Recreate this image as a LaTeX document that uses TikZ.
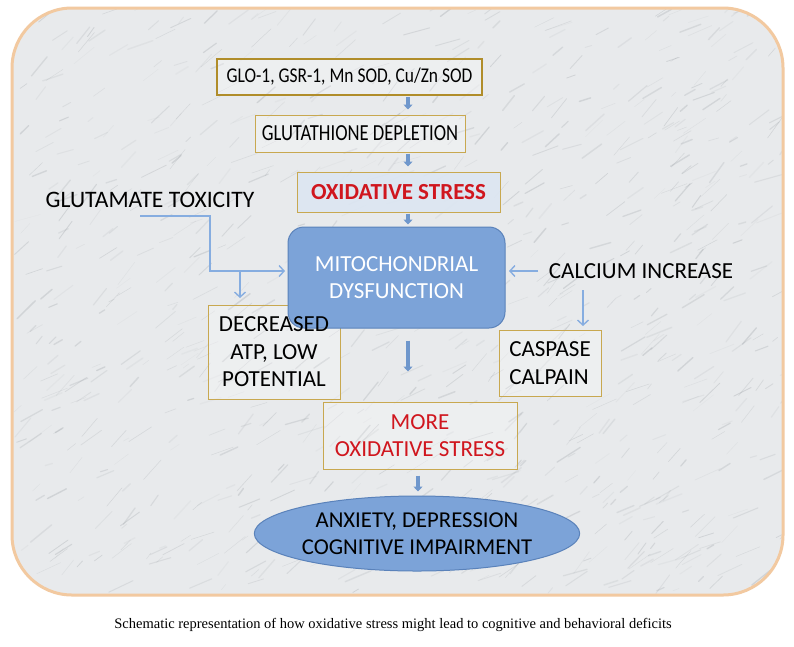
\documentclass[tikz,border=0pt]{standalone}
\usepackage{fontspec}
\setmainfont{Carlito}
\newfontfamily\capfont{Liberation Serif}
\usetikzlibrary{shapes.geometric,arrows.meta}
\definecolor{peach}{HTML}{F2C9A0}
\definecolor{marble}{HTML}{E8EAEC}
\definecolor{vein}{HTML}{8A9096}
\definecolor{gold}{HTML}{C8A850}
\definecolor{darkgold}{HTML}{B08D2A}
\definecolor{lblue}{HTML}{DCE6F2}
\definecolor{mblue}{HTML}{7CA3D8}
\definecolor{bblue}{HTML}{5A82BA}
\definecolor{arr}{HTML}{6F97CC}
\definecolor{tarrc}{HTML}{86ADE0}
\definecolor{redtxt}{HTML}{D0161E}
\newcommand{\fs}[1]{\fontsize{#1}{27.5}\selectfont}
\tikzset{
  x=1pt, y=-1pt,
  txt/.style={font=\fs{23}, align=center, inner sep=0pt},
  goldbox/.style={draw=gold, line width=1pt, fill=white, fill opacity=0.25, text opacity=1, inner sep=0pt, minimum width=#1},
  varr/.style={draw=arr, line width=3.5pt, -{Triangle[length=5pt,width=9pt]}},
  tarr/.style={draw=tarrc, line width=1.4pt, -{Straight Barb[length=5pt,width=11pt]}},
  tline/.style={draw=tarrc, line width=1.4pt}
}
\begin{document}
\begin{tikzpicture}
\useasboundingbox (0,0) rectangle (794,646);
\fill[white] (0,0) rectangle (794,646);
% frame with marble texture
\fill[marble, rounded corners=60pt] (12,8) rectangle (783,595);
\begin{scope}
\clip[rounded corners=60pt] (12,8) rectangle (783,595);
\pgfmathsetseed{12}
\foreach \i in {1,...,900}{
  \pgfmathsetmacro{\xa}{12+771*rnd}
  \pgfmathsetmacro{\ya}{8+587*rnd}
  \pgfmathsetmacro{\ang}{-15-40*rnd}
  \pgfmathsetmacro{\len}{6+22*rnd}
  \pgfmathsetmacro{\op}{0.06+0.2*rnd}
  \pgfmathsetmacro{\lw}{0.3+1.2*rnd}
  \draw[vein, opacity=\op, line width=\lw pt, line cap=round] (\xa,\ya) -- ++(\ang:\len);
}
\end{scope}
\draw[peach, line width=3pt, rounded corners=60pt] (12,8) rectangle (783,595);
% boxes
\node[draw=darkgold, line width=2.5pt, fill=white, fill opacity=0.25, text opacity=1, inner sep=0pt, minimum width=265pt, minimum height=36pt] (b1) at (349.5,77) {\fs{21}\scalebox{0.83}[1]{GLO-1, GSR-1, Mn SOD, Cu/Zn SOD}};
\node[goldbox=210pt, minimum height=37pt] (b2) at (360,133.5) {\fs{23}\scalebox{0.81}[1]{GLUTATHIONE DEPLETION}};
\node[draw=gold, line width=1pt, fill=lblue, fill opacity=0.9, text opacity=1, txt, text=redtxt, font=\fs{23}\bfseries, minimum width=203pt, minimum height=40pt] (b3) at (398.5,192) {OXIDATIVE STRESS};
\node[goldbox=132pt, minimum height=94pt] (dec) at (274,352) {};
\node[draw=bblue, line width=1pt, fill=mblue, rounded corners=16pt, txt, text=white, minimum width=217pt, minimum height=101pt] (mito) at (396.5,277.5) {MITOCHONDRIAL\\DYSFUNCTION};
\node[txt] (dect) at (dec.center) {DECREASED\\ATP, LOW\\POTENTIAL};
\node[goldbox=102pt, minimum height=66pt, font=\fs{23}, align=left] (casp) at (550,363) {CASPASE\\CALPAIN};
\node[goldbox=194pt, minimum height=67pt, font=\fs{23}, align=center, text=redtxt] (more) at (420,435.5) {MORE\\OXIDATIVE STRESS};
\node[draw=bblue, line width=1pt, fill=mblue, ellipse, txt, font=\fs{22.7}, minimum width=234pt, minimum height=75pt, inner sep=0pt] (anx) at (417,533.5) {ANXIETY, DEPRESSION\\COGNITIVE IMPAIRMENT};
\node[txt, font=\fs{23.6}] (glu) at (150,200) {GLUTAMATE TOXICITY};
\node[txt] (cal) at (641,271) {CALCIUM INCREASE};
\node[font=\capfont\fontsize{14.5}{16}\selectfont, inner sep=0pt] (cap) at (393,625) {Schematic representation of how oxidative stress might lead to cognitive and behavioral deficits};
% arrow anchors
\coordinate (ax) at (408,0);
\coordinate (bx) at (418,0);
\draw[varr, shorten <=1pt, shorten >=5pt] (b1.south -| ax) -- (b2.north -| ax);
\draw[varr, shorten <=1pt, shorten >=5pt] (b2.south -| ax) -- (b3.north -| ax);
\draw[varr, shorten <=1pt, shorten >=2pt] (b3.south -| ax) -- (mito.north -| ax);
\draw[varr, shorten <=12pt, shorten >=30pt] (mito.south -| ax) -- (more.north -| ax);
\draw[varr, shorten <=6pt, shorten >=4pt] (more.south -| bx) -- (anx.north -| bx);
% glutamate connector
\coordinate (g0) at (140,216);
\coordinate (g1) at (210,216);
\coordinate (g2) at (210,271);
\coordinate (g3) at (285,271);
\coordinate (g4) at (240,271);
\coordinate (g5) at (240,298);
\draw[tline] (g0) -- (g1) -- (g2) -- (g4);
\draw[tarr] (g4) -- (g3);
\draw[tarr] (g4) -- (g5);
% calcium
\coordinate (c0) at (538,271);
\coordinate (c1) at (509,271);
\coordinate (c2) at (583,290);
\coordinate (c3) at (583,326);
\draw[tarr] (c0) -- (c1);
\draw[tarr] (c2) -- (c3);
\end{tikzpicture}
\end{document}
